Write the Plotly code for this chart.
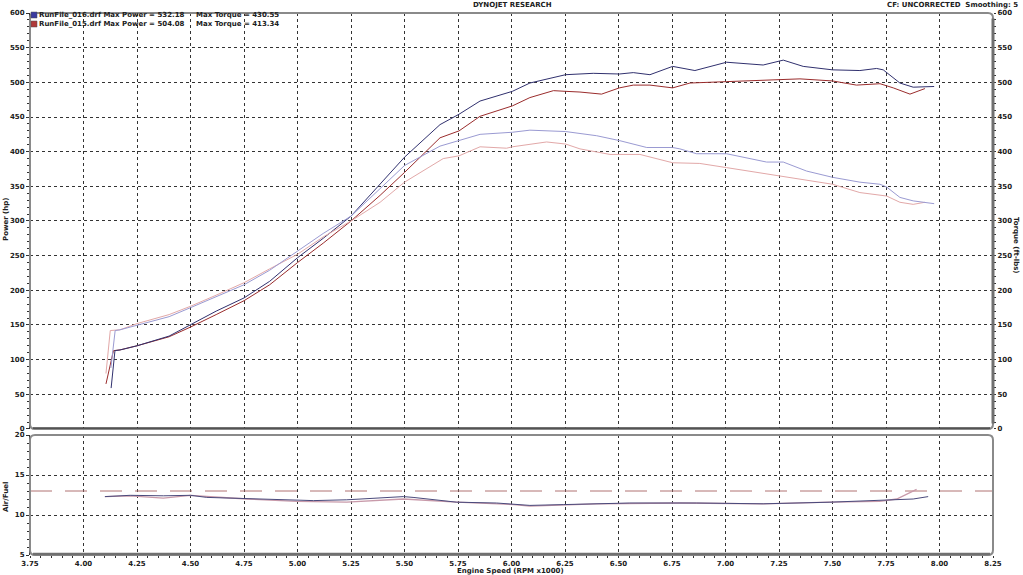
import plotly.graph_objects as go

# ---- data ----
rpm_p016 = [4.129, 4.147, 4.171, 4.25, 4.40, 4.50, 4.62, 4.75, 4.87, 5.00, 5.12, 5.25, 5.386, 5.50, 5.666, 5.755, 5.853,
            6.004, 6.086, 6.253, 6.382, 6.504, 6.569, 6.647, 6.753, 6.834, 6.857, 7.005, 7.176, 7.27, 7.363, 7.50,
            7.628, 7.706, 7.737, 7.815, 7.877, 7.975]
hp_016 = [59, 113, 114, 120, 134, 150, 170, 189, 213, 247, 275, 307, 353, 392, 439, 454, 473,
          487, 499, 511, 513, 512, 514, 511, 523, 518, 517, 529, 525, 532, 523, 518,
          517, 520, 518, 499, 493, 494]

rpm_p015 = [4.105, 4.14, 4.17, 4.25, 4.40, 4.50, 4.62, 4.75, 4.87, 5.00, 5.12, 5.25, 5.386, 5.50, 5.666, 5.755, 5.853,
            5.93, 6.004, 6.086, 6.196, 6.253, 6.32, 6.421, 6.504, 6.569, 6.647, 6.753, 6.834, 7.005, 7.254, 7.348,
            7.50, 7.612, 7.722, 7.784, 7.862, 7.932]
hp_015 = [65, 113, 114, 120, 133, 147, 165, 185, 208, 240, 268, 300, 337, 370, 420, 430, 451,
          459, 466, 478, 488, 487, 486, 483, 492, 496, 496, 492, 499, 501, 504, 505,
          502, 496, 498, 492, 483, 491]

rpm_t016 = [4.128, 4.148, 4.17, 4.25, 4.40, 4.50, 4.62, 4.75, 4.87, 5.00, 5.12, 5.25, 5.386, 5.50, 5.666, 5.755, 5.853,
            6.004, 6.086, 6.253, 6.398, 6.504, 6.632, 6.753, 6.787, 6.865, 7.005, 7.192, 7.27, 7.379, 7.50, 7.628,
            7.722, 7.753, 7.815, 7.877, 7.975]
tq_016 = [88, 142, 143, 150, 162, 175, 191, 208, 229, 256, 282, 307, 346, 380, 408, 416, 425,
          428, 431, 429, 423, 416, 406, 406, 404, 397, 397, 385, 385, 372, 363, 356,
          353, 349, 334, 329, 325]

rpm_t015 = [4.105, 4.125, 4.17, 4.25, 4.40, 4.50, 4.62, 4.75, 4.87, 5.00, 5.12, 5.25, 5.386, 5.50, 5.681, 5.755, 5.853,
            5.977, 6.004, 6.164, 6.253, 6.32, 6.46, 6.504, 6.6, 6.753, 6.787, 6.88, 7.005, 7.254, 7.379, 7.50,
            7.628, 7.722, 7.753, 7.815, 7.877, 7.932]
tq_015 = [80, 142, 143, 152, 165, 177, 193, 211, 231, 252, 277, 300, 327, 356, 390, 394, 407,
          405, 407, 414, 411, 404, 396, 396, 396, 384, 384, 383, 377, 365, 358, 353,
          341, 338, 336, 327, 324, 327]

rpm_af016 = [4.10, 4.218, 4.373, 4.50, 4.576, 4.763, 4.981, 5.074, 5.23, 5.386, 5.495, 5.54, 5.744, 5.93, 6.01,
             6.086, 6.242, 6.553, 6.865, 7.176, 7.488, 7.72, 7.877, 7.947]
af_016 = [12.3, 12.46, 12.4, 12.46, 12.2, 12.08, 11.9, 11.8, 11.9, 12.1, 12.3, 12.2, 11.6, 11.5, 11.3,
          11.2, 11.3, 11.5, 11.5, 11.4, 11.6, 11.8, 12.0, 12.3]

rpm_af015 = [4.10, 4.218, 4.373, 4.50, 4.763, 4.996, 5.23, 5.495, 5.744, 6.01, 6.086, 6.398, 6.787, 7.176,
             7.488, 7.72, 7.80, 7.893]
af_015 = [12.3, 12.4, 12.1, 12.46, 12.0, 11.7, 11.6, 12.0, 11.6, 11.3, 11.1, 11.4, 11.5, 11.4,
          11.6, 11.7, 12.0, 13.2]

af_target = 13.0
x_ticks = [3.75, 4.00, 4.25, 4.50, 4.75, 5.00, 5.25, 5.50, 5.75, 6.00, 6.25, 6.50, 6.75, 7.00, 7.25, 7.50, 7.75, 8.00, 8.25]

FONT = "DejaVu Sans"
TF = dict(family=FONT, size=7, color="#202020", weight="bold")

C_P016 = "#30306e"
C_P015 = "#9a2c2c"
C_T016 = "#9a9ad2"
C_T015 = "#e2a8a8"

fig = go.Figure()
fig.add_trace(go.Scatter(x=rpm_t015, y=tq_015, mode="lines", line=dict(color=C_T015, width=1), yaxis="y2", xaxis="x"))
fig.add_trace(go.Scatter(x=rpm_t016, y=tq_016, mode="lines", line=dict(color=C_T016, width=1), yaxis="y2", xaxis="x"))
fig.add_trace(go.Scatter(x=rpm_p015, y=hp_015, mode="lines", line=dict(color=C_P015, width=1), xaxis="x", yaxis="y"))
fig.add_trace(go.Scatter(x=rpm_p016, y=hp_016, mode="lines", line=dict(color=C_P016, width=1), xaxis="x", yaxis="y"))

fig.add_trace(go.Scatter(x=[3.75, 8.25], y=[af_target, af_target], mode="lines",
                         line=dict(color="#b07272", width=1, dash="22px,13px"), xaxis="x2", yaxis="y3"))
fig.add_trace(go.Scatter(x=rpm_af015, y=af_015, mode="lines", line=dict(color="#c89aaa", width=1.3), xaxis="x2", yaxis="y3"))
fig.add_trace(go.Scatter(x=rpm_af016, y=af_016, mode="lines", line=dict(color="#4a4a7c", width=1), xaxis="x2", yaxis="y3"))

TOP0 = 0.2325
BOT1 = 0.2214

grid = dict(showgrid=True, gridcolor="#333333", gridwidth=1, griddash="dot", zeroline=False, automargin=False)

fig.update_layout(
    width=1023, height=575,
    margin=dict(l=30, r=30, t=13, b=20, autoexpand=False),
    paper_bgcolor="white", plot_bgcolor="white",
    showlegend=False,
    font=dict(family=FONT, size=7, color="#202020"),
    xaxis=dict(domain=[0, 1], range=[3.75, 8.25], tickvals=x_ticks, showticklabels=False, anchor="y",
               ticks="", **grid),
    yaxis=dict(domain=[TOP0, 1], range=[0, 600], dtick=50, tickfont=TF, ticks="outside", ticklen=3,
               tickcolor="#303030", showline=True, linecolor="#303030", linewidth=1,
               minor=dict(dtick=10, ticks="outside", ticklen=2, tickcolor="#303030", showgrid=False),
               anchor="x", **grid),
    yaxis2=dict(range=[0, 600], dtick=50, tickfont=TF, overlaying="y", side="right", anchor="x",
                ticks="outside", ticklen=2, tickcolor="#303030", showgrid=False, zeroline=False,
                automargin=False,
                minor=dict(dtick=10, ticks="outside", ticklen=2, tickcolor="#303030"),
                showline=False),
    xaxis2=dict(domain=[0, 1], range=[3.75, 8.25], tickvals=x_ticks, ticktext=[f"{v:.2f}" for v in x_ticks],
                tickfont=TF, anchor="y3", ticks="outside", ticklen=2, tickcolor="#303030",
                minor=dict(dtick=0.05, ticks="outside", ticklen=2, tickcolor="#303030", showgrid=False),
                **grid),
    yaxis3=dict(domain=[0, BOT1], range=[5, 20], dtick=5, tickfont=TF, anchor="x2", ticks="outside", ticklen=3,
                tickcolor="#303030", showline=True, linecolor="#303030", linewidth=1,
                minor=dict(dtick=1, ticks="outside", ticklen=2, tickcolor="#303030", showgrid=False),
                **grid),
)

# rounded frames
def frame(y0, y1):
    rx = 5 / 963.0
    ry = 5 / 542.0
    x0, x1 = 0.0, 1.0
    return (f"M {x0+rx},{y1} L {x1-rx},{y1} Q {x1},{y1} {x1},{y1-ry} L {x1},{y0+ry} Q {x1},{y0} {x1-rx},{y0} "
            f"L {x0+rx},{y0} Q {x0},{y0} {x0},{y0+ry} L {x0},{y1-ry} Q {x0},{y1} {x0+rx},{y1} Z")

for (a, b) in [(TOP0, 1.0), (0.0, BOT1)]:
    fig.add_shape(type="path", path=frame(a, b), xref="paper", yref="paper",
                  line=dict(color="#8a8a8a", width=2), layer="above")
fig.add_shape(type="line", xref="paper", yref="paper", x0=0.003, x1=0.997, y0=TOP0 + 0.002, y1=TOP0 + 0.002,
              line=dict(color="#404040", width=1.5), layer="above")
fig.add_shape(type="line", xref="paper", yref="paper", x0=1.0, x1=1.0, y0=TOP0 + 0.01, y1=0.99,
              line=dict(color="#707070", width=3), layer="above")
fig.add_shape(type="line", xref="paper", yref="paper", x0=0.003, x1=0.997, y0=0.002, y1=0.002,
              line=dict(color="#707070", width=2.5), layer="above")


def px(xp):
    return (xp - 30) / 963.0


def py(yp):
    return (555 - yp) / 542.0


def cont(xp, yp, s, angle=0, anchor="center"):
    fig.add_annotation(x=px(xp), y=py(yp), xref="paper", yref="paper", text=s,
                       showarrow=False, textangle=angle, xanchor=anchor, yanchor="middle",
                       font=dict(family=FONT, size=7, color="#202020", weight="bold"))


cont(512, 5, "DYNOJET RESEARCH")
cont(1020, 5, "CF: UNCORRECTED  Smoothing: 5", anchor="right")
cont(37, 15, "RunFile_016.drf Max Power = 532.18", anchor="left")
cont(37, 24, "RunFile_015.drf Max Power = 504.08", anchor="left")
cont(194, 15, "Max Torque = 430.55", anchor="left")
cont(194, 24, "Max Torque = 413.34", anchor="left")
cont(6, 220, "Power (hp)", angle=-90)
cont(1016, 245, "Torque (ft-lbs)", angle=90)
cont(6, 497, "Air/Fuel", angle=-90)
cont(510, 571, "Engine Speed (RPM x1000)")

for yy, c in [(15, "#3a3aa0"), (24, "#b03a3a")]:
    fig.add_shape(type="rect", xref="paper", yref="paper", x0=px(31), x1=px(37), y0=py(yy + 3), y1=py(yy - 3),
                  fillcolor=c, line=dict(color="#505050", width=0.5), layer="above")

fig.write_html("out.html", config={"displayModeBar": False},
               post_script="document.body.style.margin='0';document.body.style.overflow='hidden';")
